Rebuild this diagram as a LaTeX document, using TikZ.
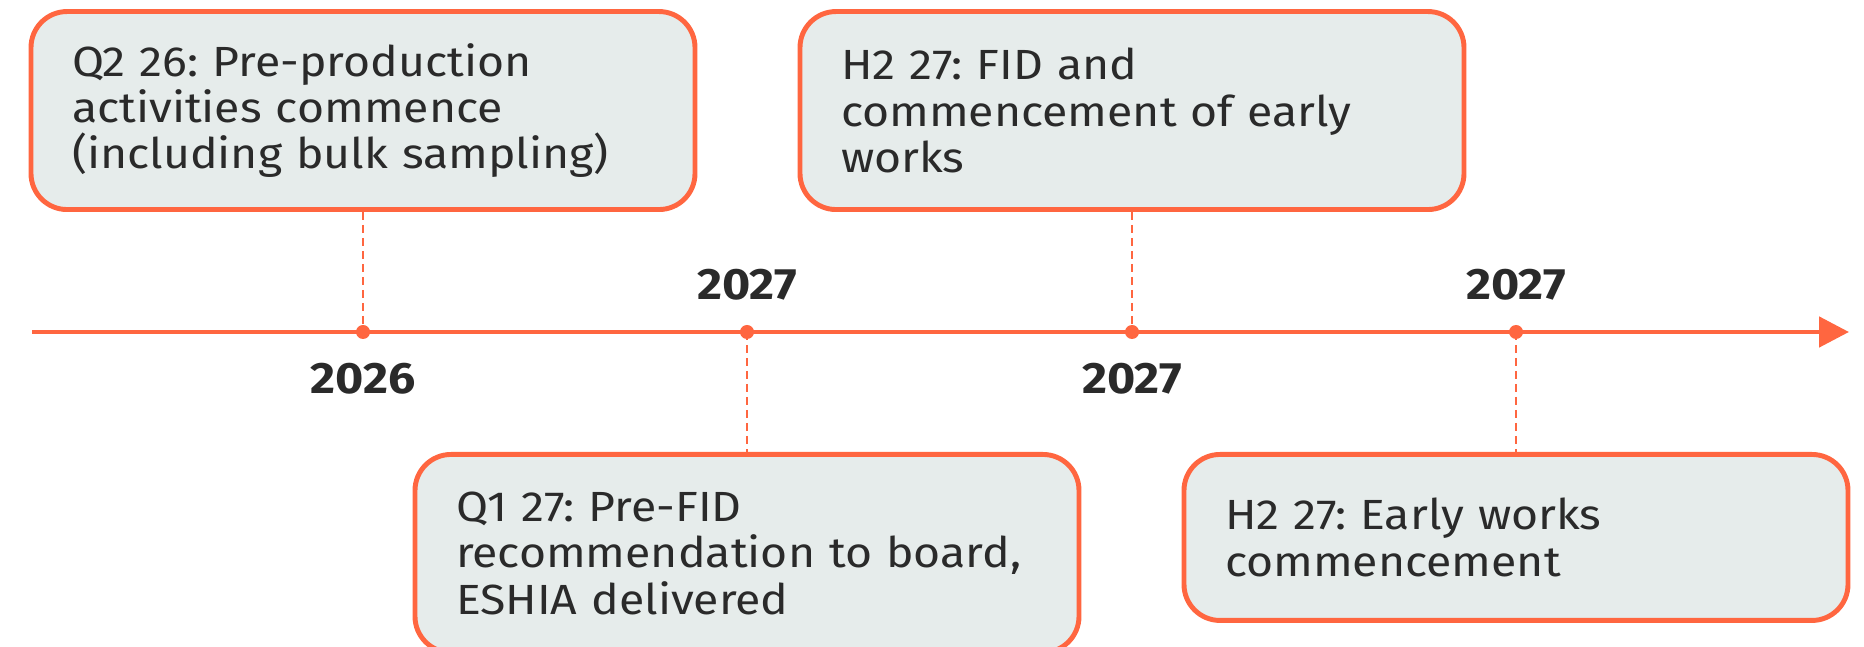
\documentclass[tikz,border=0pt]{standalone}
\usepackage{fontspec}
\setmainfont{Fira Sans}[FakeStretch=1.1]
\usetikzlibrary{positioning,arrows.meta}
\definecolor{tlorange}{HTML}{FF6640}
\definecolor{boxgrey}{HTML}{E6ECEB}
\definecolor{inkgrey}{HTML}{2A2A2A}
\frenchspacing

\begin{document}
\begin{tikzpicture}[
	milebox/.style={draw=tlorange, fill=boxgrey, line width=1.4pt, rounded corners=0.36cm,
		text width=5.82cm, inner xsep=0.41cm, inner ysep=0pt, minimum height=1.98cm,
		align=left, text=inkgrey, font=\fontsize{12}{13.2}\selectfont},
	yearlbl/.style={text=inkgrey, font=\bfseries\fontsize{12.5}{14}\selectfont},
	leader/.style={draw=tlorange, line width=0.5pt, dash pattern=on 0.08cm off 0.05cm}]
			%%%%% START %%%%%
			\def\ty{-3.32}
			\def\gap{1.2cm}
			\def\yoff{0.47}
			\def\rdot{0.07}
			
			\useasboundingbox (0,0) rectangle (18.64,-6.47);
			\clip (0,0) rectangle (18.64,-6.47);
			
			\coordinate (tstart) at (0.32,\ty);
			\coordinate (tend) at (18.49,\ty);
			\coordinate (d1) at (3.63,\ty);
			\coordinate (d2) at (7.47,\ty);
			\coordinate (d3) at (11.32,\ty);
			\coordinate (d4) at (15.16,\ty);
			
			\draw[tlorange, line width=1.4pt, -{Triangle[length=0.3cm,width=0.3cm]}] (tstart) -- (tend);
			\foreach \d in {d1,d2,d3,d4}
				\fill[tlorange] (\d) circle (\rdot);
			
			% milestone boxes
			\node[milebox, above=\gap of d1] (q2box) {Q2 26: Pre-production\\activities commence\\(including bulk sampling)};
			\node[milebox, below=\gap of d2] (q1box) {Q1 27: Pre-FID\\recommendation to board,\\ESHIA delivered};
			\node[milebox, above=\gap of d3] (fidbox) {H2 27: FID and\\commencement of early\\works};
			\node[milebox, below=\gap of d4, minimum height=1.66cm] (ewbox) {H2 27: Early works\\commencement};
			
			\draw[leader] (q2box.south) -- (d1);
			\draw[leader] (d2) -- (q1box.north);
			\draw[leader] (fidbox.south) -- (d3);
			\draw[leader] (d4) -- (ewbox.north);
			
			% years
			\node[yearlbl, yshift=-\yoff cm] (y1) at (d1) {2026};
			\node[yearlbl, yshift=\yoff cm] (y2) at (d2) {2027};
			\node[yearlbl, yshift=-\yoff cm] (y3) at (d3) {2027};
			\node[yearlbl, yshift=\yoff cm] (y4) at (d4) {2027};
			%%%%% END %%%%%
\end{tikzpicture}
\end{document}
